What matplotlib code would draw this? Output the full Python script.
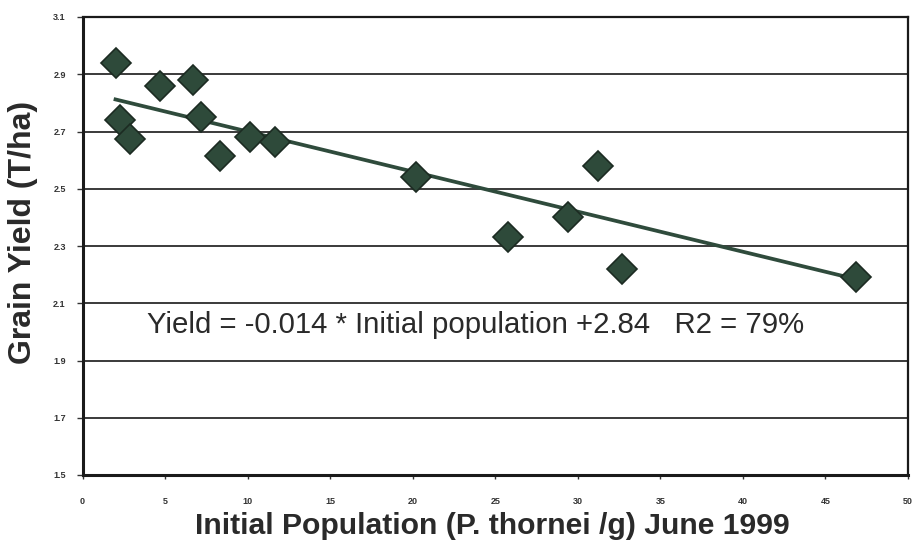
import matplotlib
matplotlib.use("Agg")
import matplotlib.pyplot as plt
import numpy as np

# ---- data ----
initial_population = [2.0, 2.3, 2.9, 4.7, 6.7, 7.15, 8.3, 10.15, 11.65, 20.2, 25.8, 29.4, 31.2, 32.7, 46.85]
grain_yield = [2.94, 2.74, 2.675, 2.86, 2.88, 2.75, 2.615, 2.68, 2.665, 2.54, 2.33, 2.40, 2.58, 2.22, 2.19]
slope = -0.014
intercept = 2.84
x_ticks = [0, 5, 10, 15, 20, 25, 30, 35, 40, 45, 50]
y_ticks = [1.5, 1.7, 1.9, 2.1, 2.3, 2.5, 2.7, 2.9, 3.1]
y_tick_labels = ["1.5", "1.7", "1.9", "2.1", "2.3", "2.5", "2.7", "2.9", "3.1"]
x_label = "Initial Population (P. thornei /g) June 1999"
y_label = "Grain Yield (T/ha)"
equation_text = "Yield = -0.014 * Initial population +2.84   R2 = 79%"

plt.rcParams['font.family'] = ['Liberation Sans', 'DejaVu Sans']

fig = plt.figure(figsize=(9.17, 5.5), dpi=100)
ax = fig.add_axes([82.5 / 917, 1 - 475 / 550, (908 - 82.5) / 917, (475 - 17) / 550])

ax.set_xlim(0, 50)
ax.set_ylim(1.5, 3.1)
ax.set_yticks(y_ticks)
ax.set_yticklabels(y_tick_labels)
ax.set_xticks(x_ticks)

ax.yaxis.grid(True, color="#2b2b2b", linewidth=1.3)
ax.set_axisbelow(True)

# trend line
xs = np.array([min(initial_population), max(initial_population)])
ax.plot(xs, slope * xs + intercept, color="#2f4b3c", linewidth=2.7, zorder=3)

ax.plot(initial_population, grain_yield, linestyle="none", marker="D",
        markersize=15, markerfacecolor="#2e4a3a", markeredgecolor="#1c2b22",
        markeredgewidth=1.2, zorder=4)

for side in ["left", "bottom"]:
    ax.spines[side].set_linewidth(2.2)
    ax.spines[side].set_color("#1a1a1a")
for side in ["top", "right"]:
    ax.spines[side].set_linewidth(1.6)
    ax.spines[side].set_color("#1a1a1a")

ax.tick_params(axis="y", direction="out", length=4, width=1, pad=8,
               labelsize=6.5, colors="#333333")
ax.tick_params(axis="x", direction="out", length=3, width=1, pad=13,
               labelsize=6.5, colors="#333333")
for lbl in ax.get_xticklabels() + ax.get_yticklabels():
    lbl.set_fontweight("bold")

fig.text(23 / 917, 1 - 232 / 550, y_label, rotation=90, ha="center", va="center",
         fontsize=23, fontweight="bold", color="#2a2a2a")
fig.text(492 / 917, 1 - 526 / 550, x_label, ha="center", va="center",
         fontsize=21.7, fontweight="bold", color="#2a2a2a")

ax.text(147 / 917, 1 - 333 / 550, equation_text, transform=fig.transFigure,
        ha="left", va="baseline", fontsize=21.2, color="#2a2a2a")

fig.savefig("out.png", dpi=100, facecolor="white")
